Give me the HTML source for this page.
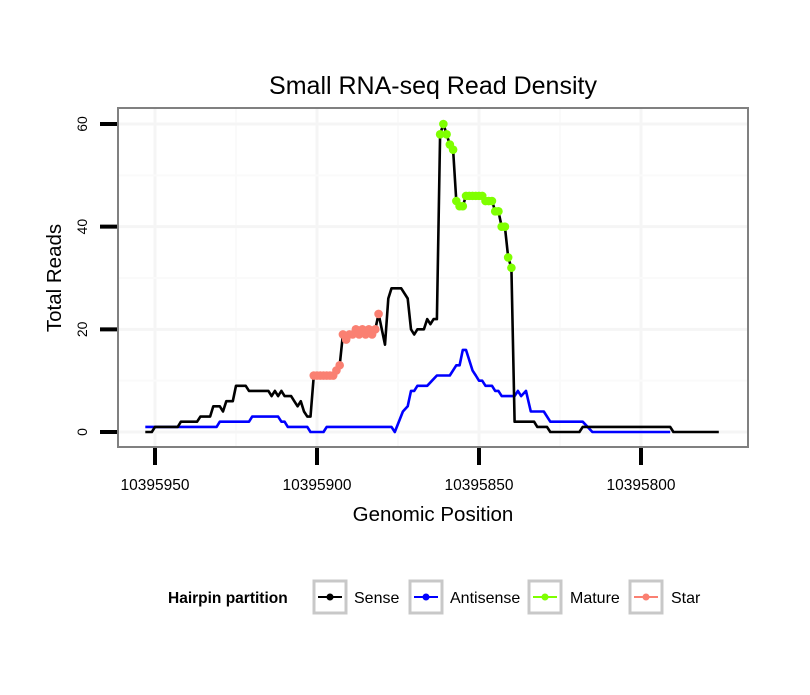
<!DOCTYPE html>
<html><head><meta charset="utf-8"><style>
body{margin:0;background:#fff;}
svg text{font-family:"Liberation Sans",sans-serif;}
</style></head><body>
<svg id="chart" width="810" height="690" xmlns="http://www.w3.org/2000/svg">
<rect width="810" height="690" fill="#fff"/>
<text x="433" y="94" font-size="25" text-anchor="middle">Small RNA-seq Read Density</text>
<g id="grid"></g>
<g id="series"></g>
<rect x="118" y="108" width="630" height="339" fill="none" stroke="#808080" stroke-width="2"/>
<g id="axes"></g>
<text x="433" y="521" font-size="20.5" text-anchor="middle">Genomic Position</text>
<text transform="translate(61,278) rotate(-90)" font-size="20.5" text-anchor="middle">Total Reads</text>
<g>
<text x="168" y="603" font-size="15.5" font-weight="bold">Hairpin partition</text>
<g>
<rect x="314" y="581" width="32" height="32" fill="#fff" stroke="#c8c8c8" stroke-width="3"/>
<line x1="318" y1="597" x2="342" y2="597" stroke="#000" stroke-width="2"/><circle cx="330" cy="597" r="3.5" fill="#000"/>
<text x="354" y="603" font-size="16">Sense</text></g>
<g>
<rect x="410" y="581" width="32" height="32" fill="#fff" stroke="#c8c8c8" stroke-width="3"/>
<line x1="414" y1="597" x2="438" y2="597" stroke="#0000ff" stroke-width="2"/><circle cx="426" cy="597" r="3.5" fill="#0000ff"/>
<text x="450" y="603" font-size="16">Antisense</text></g>
<g>
<rect x="529" y="581" width="32" height="32" fill="#fff" stroke="#c8c8c8" stroke-width="3"/>
<line x1="533" y1="597" x2="557" y2="597" stroke="#7fff00" stroke-width="2"/><circle cx="545" cy="597" r="3.5" fill="#7fff00"/>
<text x="570" y="603" font-size="16">Mature</text></g>
<g>
<rect x="630" y="581" width="32" height="32" fill="#fff" stroke="#c8c8c8" stroke-width="3"/>
<line x1="634" y1="597" x2="658" y2="597" stroke="#fa8072" stroke-width="2"/><circle cx="646" cy="597" r="3.5" fill="#fa8072"/>
<text x="671" y="603" font-size="16">Star</text></g>
</g>
</svg>
<script>
const BASE = 10395950;
const senseOffsets = [-3,-1,0,7,8,13,14,17,18,20,21,22,24,25,28,29,35,36,37,38,39,40,42,43,44,45,46,47,48,49,50,51,52,53,54,55,56,57,58,59,60,61,62,63,64,65,66,67,68,69,70,71,72,73,76,78,79,80,81,83,84,85,86,87,88,89,90,91,92,93,94,95,96,97,98,99,100,101,102,103,104,105,106,107,108,109,110,111,117,118,121,122,131,132,159,160,174];
const senseValues = [0,0,1,1,2,2,3,3,5,5,4,6,6,9,9,8,8,7,8,7,8,7,7,6,5,6,4,3,3,11,11,11,11,11,11,11,12,13,19,18,19,19,20,19,20,19,20,19,20,23,20,17,26,28,28,26,20,19,20,20,22,21,22,22,58,60,58,56,55,45,44,44,46,46,46,46,46,46,45,45,45,43,43,40,40,34,32,2,2,1,1,0,0,1,1,0,0];
const antisenseOffsets = [-3,19,20,29,30,38,39,40,41,47,48,52,53,73,74,76.5,78,79,80,81,84,85.5,87,91,93,94,95,96,98,99,100,101,102,104,105,106,107,111,112,113,114.5,116,120,122,132,135,159];
const antisenseValues = [1,1,2,2,3,3,2,2,1,1,0,0,1,1,0,4,5,8,8,9,9,10,11,11,13,13,16,16,12,11,10,10,9,9,8,8,7,7,8,7,8,4,4,2,2,0,0];
const starRange = [49,69];
const matureRange = [88,110];
const xTicks = [10395950,10395900,10395850,10395800];
const yTicks = [0,20,40,60];
const NS='http://www.w3.org/2000/svg';
function xs(pos){return 155 + (10395950 - pos)*3.24;}
function ys(v){return 432 - v*5.133;}
function mk(tag, attrs, parent){const e=document.createElementNS(NS,tag);for(const k in attrs)e.setAttribute(k,attrs[k]);parent.appendChild(e);return e;}
const grid=document.getElementById('grid'), axes=document.getElementById('axes'), series=document.getElementById('series');
for(let i=0;i<xTicks.length;i++){
  const g=mk('line',{x1:xs(xTicks[i]),x2:xs(xTicks[i]),y1:108,y2:447,stroke:'#f5f5f5','stroke-width':3},grid);
  
  
  if(i<xTicks.length-1){const m=mk('line',{x1:(xs(xTicks[i])+xs(xTicks[i+1]))/2,x2:(xs(xTicks[i])+xs(xTicks[i+1]))/2,y1:108,y2:447,stroke:'#fafafa','stroke-width':2},grid);
  
  }
}
for(let i=0;i<yTicks.length;i++){
  const g=mk('line',{x1:118,x2:748,y1:ys(yTicks[i]),y2:ys(yTicks[i]),stroke:'#f5f5f5','stroke-width':3},grid);
  
  
  if(i<yTicks.length-1){const yy=(ys(yTicks[i])+ys(yTicks[i+1]))/2;const m=mk('line',{x1:118,x2:748,y1:yy,y2:yy,stroke:'#fafafa','stroke-width':2},grid);
  
  }
}
xTicks.forEach(t=>{
  const l=mk('line',{x1:xs(t),x2:xs(t),y1:448,y2:465,stroke:'#000','stroke-width':4},axes);
  
  
  const tx=mk('text',{x:xs(t),y:490,'font-size':15.5,'text-anchor':'middle'},axes);tx.textContent=t;
  
  
});
yTicks.forEach(t=>{
  const l=mk('line',{x1:100,x2:117,y1:ys(t),y2:ys(t),stroke:'#000','stroke-width':4},axes);
  
  
  const tx=mk('text',{transform:`translate(87,${ys(t)}) rotate(-90)`,'font-size':14,'text-anchor':'middle'},axes);tx.textContent=t;
  
  
});
function pts(off,vals){return off.map((d,i)=>xs(BASE-d).toFixed(1)+','+ys(vals[i]).toFixed(1)).join(' ');}
const al=mk('polyline',{points:pts(antisenseOffsets,antisenseValues),fill:'none',stroke:'#0000ff','stroke-width':2.6,'stroke-linejoin':'round'},series);


const sl=mk('polyline',{points:pts(senseOffsets,senseValues),fill:'none',stroke:'#000','stroke-width':2.6,'stroke-linejoin':'round'},series);


senseOffsets.forEach((d,i)=>{
  let col=null,name='';
  if(d>=starRange[0]&&d<=starRange[1]){col='#fa8072';name='star-point';}
  if(d>=matureRange[0]&&d<=matureRange[1]){col='#7fff00';name='mature-point';}
  if(col){const c=mk('circle',{cx:xs(BASE-d),cy:ys(senseValues[i]),r:4.3,fill:col},series);
    
    }
});
</script>
</body></html>
